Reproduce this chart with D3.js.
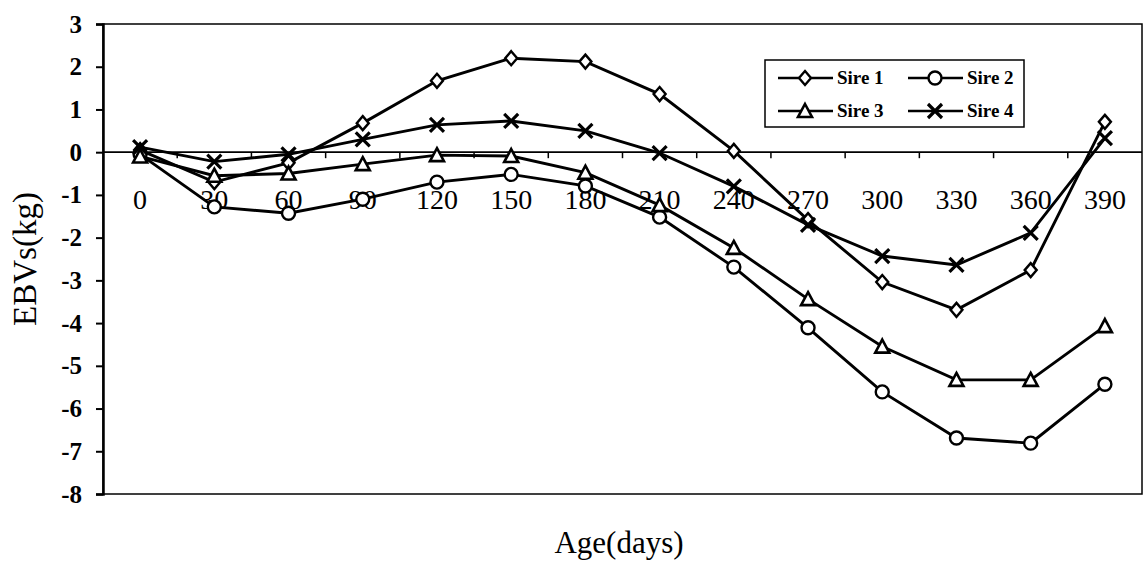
<!DOCTYPE html>
<html>
<head>
<meta charset="utf-8">
<script src="https://cdn.jsdelivr.net/npm/d3@7"></script>
<style>
  body { margin: 0; background: #fff; }
  text { font-family: "Liberation Serif", "Times New Roman", serif; fill: #000; }
</style>
</head>
<body>
<div id="chart"></div>
<script>
var ages = ["0", "30", "60", "90", "120", "150", "180", "210", "240", "270", "300", "330", "360", "390"];
var sire1 = [0.05, -0.7, -0.25, 0.68, 1.67, 2.2, 2.12, 1.36, 0.03, -1.59, -3.04, -3.69, -2.76, 0.71];
var sire2 = [-0.05, -1.28, -1.43, -1.1, -0.7, -0.52, -0.79, -1.52, -2.69, -4.11, -5.61, -6.69, -6.81, -5.43];
var sire3 = [-0.1, -0.55, -0.5, -0.28, -0.07, -0.09, -0.48, -1.24, -2.24, -3.44, -4.55, -5.33, -5.33, -4.07];
var sire4 = [0.12, -0.22, -0.05, 0.3, 0.64, 0.73, 0.5, -0.02, -0.8, -1.7, -2.43, -2.64, -1.89, 0.33];
var yTicks = [3, 2, 1, 0, -1, -2, -3, -4, -5, -6, -7, -8];

var series = [
  {name: "Sire 1", values: sire1, marker: "diamond"},
  {name: "Sire 2", values: sire2, marker: "circle"},
  {name: "Sire 3", values: sire3, marker: "triangle"},
  {name: "Sire 4", values: sire4, marker: "cross"}
];

var W = 1143, H = 573;
var margin = {top: 24, right: 1, bottom: 79, left: 103};
var width = W - margin.left - margin.right,
    height = H - margin.top - margin.bottom;

var svg = d3.select("#chart").append("svg")
    .attr("width", W)
    .attr("height", H);

var g = svg.append("g")
    .attr("transform", "translate(" + margin.left + "," + margin.top + ")");

var x = d3.scaleBand().domain(ages).range([0, width]);
var y = d3.scaleLinear().domain([-8, 3]).range([height, 0]);

// plot frame
g.append("rect")
    .attr("width", width)
    .attr("height", height)
    .attr("fill", "none")
    .attr("stroke", "#000")
    .attr("stroke-width", 1.5);

// y axis
var yAxis = d3.axisLeft(y).tickValues(yTicks).tickSize(7)
    .tickFormat(function (d) { return String(d); });
var yg = g.append("g").call(yAxis);
yg.select(".domain").attr("stroke-width", 2.5);
yg.selectAll(".tick line").attr("stroke-width", 2);
yg.selectAll(".tick text")
    .attr("x", -21)
    .style("font-size", "25px")
    .style("font-weight", "bold")
    .style("font-family", "Liberation Serif");

// x axis crossing at zero
var xg = g.append("g")
    .attr("transform", "translate(0," + y(0) + ")")
    .call(d3.axisBottom(x).tickSize(0).tickPadding(37));
xg.select(".domain").attr("stroke-width", 1.8).attr("d", "M0,0H" + width);
xg.selectAll(".tick text")
    .style("font-size", "28px")
    .style("font-family", "Liberation Serif");
xg.selectAll(".cat-tick")
    .data(ages.slice(1))
    .enter().append("line")
    .attr("x1", function (d) { return x(d); })
    .attr("x2", function (d) { return x(d); })
    .attr("y1", 0)
    .attr("y2", 6)
    .attr("stroke", "#000")
    .attr("stroke-width", 1.5);

var line = d3.line()
    .x(function (d, i) { return x(ages[i]) + x.bandwidth() / 2; })
    .y(function (d) { return y(d); });

function drawMarker(sel, type) {
  if (type === "diamond") {
    sel.append("path").attr("d", "M0,-7L6,0L0,7L-6,0Z")
      .attr("fill", "#fff").attr("stroke", "#000").attr("stroke-width", 2.4);
  } else if (type === "circle") {
    sel.append("circle").attr("r", 6.5)
      .attr("fill", "#fff").attr("stroke", "#000").attr("stroke-width", 2.4);
  } else if (type === "triangle") {
    sel.append("path").attr("d", "M0,-7L7,6L-7,6Z")
      .attr("fill", "#fff").attr("stroke", "#000").attr("stroke-width", 2.6);
  } else {
    sel.append("path").attr("d", "M-7,-7L7,7M-7,7L7,-7")
      .attr("fill", "none").attr("stroke", "#000").attr("stroke-width", 3.2);
  }
}

series.forEach(function (s) {
  g.append("path")
      .datum(s.values)
      .attr("fill", "none")
      .attr("stroke", "#000")
      .attr("stroke-width", 2.9)
      .attr("d", line);
});

series.forEach(function (s) {
  g.selectAll(null)
      .data(s.values)
      .enter().append("g")
      .attr("transform", function (d, i) {
        return "translate(" + (x(ages[i]) + x.bandwidth() / 2) + "," + y(d) + ")";
      })
      .each(function () { drawMarker(d3.select(this), s.marker); });
});

// legend
var legend = svg.append("g").attr("transform", "translate(765,60)");
legend.append("rect")
    .attr("width", 259)
    .attr("height", 67)
    .attr("fill", "#fff")
    .attr("stroke", "#000")
    .attr("stroke-width", 1.5);

series.forEach(function (s, i) {
  var col = i % 2, row = Math.floor(i / 2);
  var item = legend.append("g")
      .attr("transform", "translate(" + (13 + col * 130) + "," + (18 + row * 33) + ")");
  item.append("line")
      .attr("x1", 0).attr("x2", 55)
      .attr("stroke", "#000").attr("stroke-width", 2.4);
  drawMarker(item.append("g").attr("transform", "translate(27,0)"), s.marker);
  item.append("text")
      .attr("x", 59)
      .attr("y", 6)
      .style("font-size", "19px")
      .style("font-weight", "bold")
      .text(s.name);
});

// axis titles
svg.append("text")
    .attr("transform", "translate(36," + (margin.top + height / 2) + ") rotate(-90)")
    .attr("text-anchor", "middle")
    .style("font-size", "33px")
    .text("EBVs(kg)");

svg.append("text")
    .attr("x", 619)
    .attr("y", 553)
    .attr("text-anchor", "middle")
    .style("font-size", "31px")
    .text("Age(days)");
</script>
</body>
</html>
